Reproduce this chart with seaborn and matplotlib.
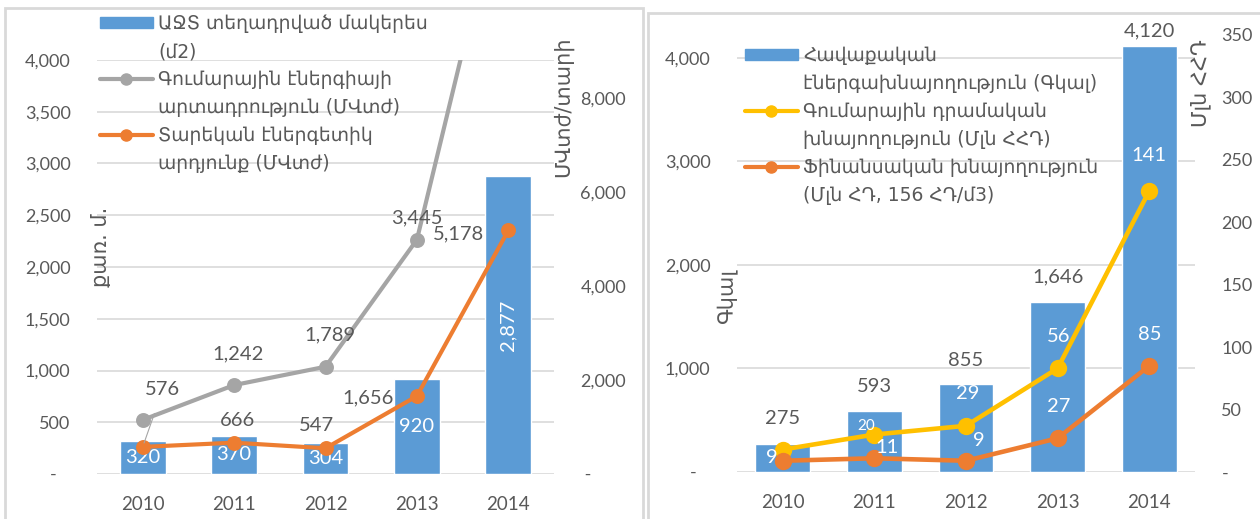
import numpy as np
import pandas as pd
import matplotlib.pyplot as plt
import seaborn as sns
from matplotlib.lines import Line2D
from matplotlib.patches import Patch, Rectangle

sns.set_style('white')
plt.rcParams['font.family'] = ['Lato', 'DejaVu Sans']

years = ['2010', '2011', '2012', '2013', '2014']

# left chart: solar collectors
area = [320, 370, 304, 920, 2877]                 # m2 installed (bars, left axis)
annual_energy = [576, 666, 547, 1656, 5178]       # MWh per year (right axis)
cum_energy = [576, 1242, 1789, 3445, 8623]        # MWh cumulative (labels)
cum_energy_drawn = [1150, 1890, 2280, 4980, 13000]  # heights as the picture draws them

# right chart: savings
heat_saving = [275, 593, 855, 1646, 4120]         # Gcal (bars)
fin_saving = [9, 11, 9, 27, 85]                   # mln AMD
cum_fin_saving = [9, 20, 29, 56, 141]             # mln AMD cumulative (labels)
cum_fin_drawn = [18, 30, 37, 83, 225]             # heights as the picture draws them

legend_left = ['ԱՋՏ տեղադրված մակերես', '(մ2)',
               'Գումարային էներգիայի', 'արտադրություն (ՄՎտժ)',
               'Տարեկան էներգետիկ', 'արդյունք (ՄՎտժ)']
legend_right = ['Հավաքական', 'էներգախնայողություն (Գկալ)',
                'Գումարային դրամական', 'խնայողություն (Մլն ՀՀԴ)',
                'Ֆինանսական խնայողություն', '(Մլն ՀԴ, 156 ՀԴ/մ3)']

BLUE = '#5B9BD5'
GRAY = '#A5A5A5'
ORANGE = '#ED7D31'
YELLOW = '#FFC000'
TXT = '#595959'
GRID = '#D9D9D9'

W, H = 1260, 519
PT = 0.72  # px -> pt at dpi 100


def box(x0, y0, x1, y1):
    return [x0 / W, 1 - y1 / H, (x1 - x0) / W, (y1 - y0) / H]


def fmt(v, zero):
    return zero if v == 0 else f'{v:,.0f}'


def style(ax, ticks, zero):
    for s in ax.spines.values():
        s.set_visible(False)
    ax.set_yticks(ticks)
    ax.set_yticklabels([fmt(t, zero) for t in ticks])
    ax.tick_params(axis='y', length=0, labelsize=13, labelcolor=TXT, pad=19)
    ax.tick_params(axis='x', length=0, labelsize=13.5, labelcolor=TXT, pad=16)
    ax.set_xlabel('')
    ax.set_ylabel('')


def point_labels(ax, values, texts, offsets, color, size=14.5):
    for i, (v, t, (dx, dy)) in enumerate(zip(values, texts, offsets)):
        if t is None:
            continue
        ax.annotate(t, (i, v), xytext=(dx * PT, dy * PT), textcoords='offset points',
                    ha='center', va='center', color=color, fontsize=size)


fig = plt.figure(figsize=(12.6, 5.19), dpi=100)
fig.patches.append(Rectangle((5 / W, -0.1), 638 / W, 1.1 - 8 / H, transform=fig.transFigure,
                             fill=False, ec=GRID, lw=2))
fig.patches.append(Rectangle((648 / W, -0.1), 0.6, 1.1 - 13 / H, transform=fig.transFigure,
                             fill=False, ec=GRID, lw=2))

# ---------------- left chart ----------------
dfL = pd.DataFrame({'year': years, 'area': area, 'annual': annual_energy,
                    'cum_drawn': cum_energy_drawn})
axL = fig.add_axes(box(97, 60, 554, 474))
sns.barplot(data=dfL, x='year', y='area', ax=axL, color=BLUE, width=0.5, saturation=1)
axL.set_ylim(0, 4000)
axL.yaxis.grid(True, color=GRID, lw=1.2)
axL.set_axisbelow(True)
style(axL, range(0, 4001, 500), '-   ')
for i, v in enumerate(area):
    axL.text(i, v / 2, f'{v:,}', ha='center', va='center', color='white', fontsize=14.5,
             rotation=90 if v > 2000 else 0)

axL2 = axL.twinx()
sns.pointplot(data=dfL, x='year', y='cum_drawn', ax=axL2, color=GRAY, errorbar=None,
              markersize=8.5, linewidth=3)
sns.pointplot(data=dfL, x='year', y='annual', ax=axL2, color=ORANGE, errorbar=None,
              markersize=8.5, linewidth=3)
axL2.set_ylim(0, 8800)
style(axL2, range(0, 8001, 2000), ' -')
axL.set_xlim(-0.5, 4.5)

point_labels(axL2, cum_energy_drawn, [None] + [f'{v:,}' for v in cum_energy[1:]],
             [(0, 0), (4, 31), (4, 32), (0, 22), (0, 22)], TXT)
point_labels(axL2, annual_energy, [None] + [f'{v:,}' for v in annual_energy[1:]],
             [(0, 0), (3, 22), (-9, 23), (-49, -2), (-50, -3)], TXT)
axL2.annotate(f'{annual_energy[0]:,}', (0, annual_energy[0]), xytext=(20 * PT, 57 * PT),
              textcoords='offset points', ha='center', va='center', color=TXT, fontsize=14.5,
              arrowprops=dict(arrowstyle='-', color=GRAY, lw=0.8, shrinkA=9, shrinkB=3))

# ---------------- right chart ----------------
dfR = pd.DataFrame({'year': years, 'heat': heat_saving, 'fin': fin_saving,
                    'cum_drawn': cum_fin_drawn})
axR = fig.add_axes(box(737, 35, 1195, 472))
sns.barplot(data=dfR, x='year', y='heat', ax=axR, color=BLUE, width=0.6, saturation=1)
axR.set_ylim(0, 4222)
axR.yaxis.grid(True, color=GRID, lw=1.2)
axR.set_axisbelow(True)
style(axR, range(0, 4001, 1000), '-   ')
for i, (v, dy) in enumerate(zip(heat_saving, [25, 24, 23, 25, 15])):
    axR.annotate(f'{v:,}', (i, v), xytext=(0, dy * PT), textcoords='offset points',
                 ha='center', va='center', color=TXT, fontsize=14.5, annotation_clip=False)

axR2 = axR.twinx()
sns.pointplot(data=dfR, x='year', y='cum_drawn', ax=axR2, color=YELLOW, errorbar=None,
              markersize=10, linewidth=3.3)
sns.pointplot(data=dfR, x='year', y='fin', ax=axR2, color=ORANGE, errorbar=None,
              markersize=10, linewidth=3.3)
axR2.set_ylim(0, 350)
style(axR2, range(0, 351, 50), '-')
axR.set_xlim(-0.5, 4.5)

point_labels(axR2, cum_fin_drawn, [None, None] + [str(v) for v in cum_fin_saving[2:]],
             [(0, 0), (0, 0), (2, 32), (1, 32), (0, 36)], 'white')
axR2.annotate(str(cum_fin_saving[1]), (1, cum_fin_drawn[1]), xytext=(-8 * PT, 9 * PT),
              textcoords='offset points', ha='center', va='center', color='white', fontsize=11)
point_labels(axR2, fin_saving, [str(v) for v in fin_saving],
             [(-11, 3), (13, 11), (13, 20), (1, 32), (1, 31)], 'white')

# ---------------- axis titles ----------------
for txt, (px, py) in [('քառ. մ.', (101, 247)), ('ՄՎտժ/տարի', (563, 107)),
                      ('Գկալ', (727, 296)), ('Մլն ՀՀԴ', (1201, 83))]:
    fig.text(px / W, 1 - py / H, txt, rotation=90, ha='center', va='center',
             color=TXT, fontsize=15, family='DejaVu Sans')

# ---------------- legends ----------------
blank = Line2D([], [], alpha=0)


def line_handle(c):
    return Line2D([], [], color=c, lw=3, marker='o', markersize=8)


for handles, labels, (px, py) in [
        ([Patch(color=BLUE), blank, line_handle(GRAY), blank, line_handle(ORANGE), blank],
         legend_left, (100, 14)),
        ([Patch(color=BLUE), blank, line_handle(YELLOW), blank, line_handle(ORANGE), blank],
         legend_right, (745, 46))]:
    fig.legend(handles, labels, loc='upper left', bbox_to_anchor=(px / W, 1 - py / H),
               frameon=False, borderpad=0, borderaxespad=0, handlelength=2.8,
               handleheight=0.5, handletextpad=0.3, labelspacing=0.48,
               prop={'family': 'DejaVu Sans', 'size': 13.5}, labelcolor=TXT)

fig.savefig('out.png', dpi=100, facecolor='white')
